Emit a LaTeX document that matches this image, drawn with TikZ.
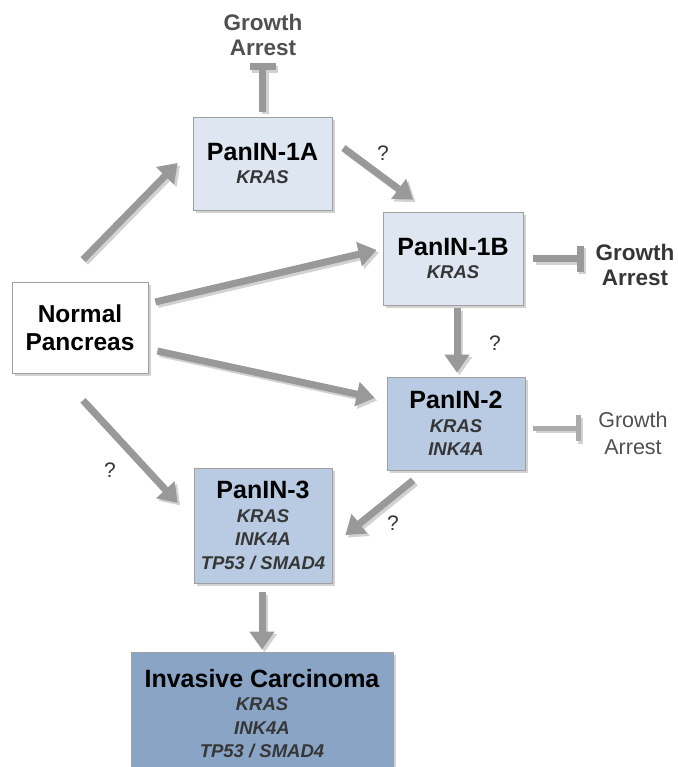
\documentclass[tikz,border=0pt]{standalone}
\usepackage{fontspec}
\setmainfont{Liberation Sans}
\usetikzlibrary{arrows.meta, shadows}

\definecolor{earlyfill}{HTML}{DDE6F1}
\definecolor{midfill}{HTML}{B8CBE2}
\definecolor{latefill}{HTML}{8AA4C6}
\definecolor{edgegray}{HTML}{A0A0A0}
\definecolor{arrowgray}{HTML}{999999}
\definecolor{faintgray}{HTML}{ABABAB}
\definecolor{shadowgray}{HTML}{D2D2D2}
\definecolor{genegray}{HTML}{363636}
\definecolor{labelgray}{HTML}{505050}

\newcommand{\stagetitle}[1]{{\fontsize{25}{25}\selectfont\upshape\color{black}#1}}

\begin{document}
\begin{tikzpicture}[x=1pt, y=-1pt,
    stage/.style={draw=edgegray, line width=0.8pt, minimum width=139pt, minimum height=93pt,
      inner sep=2pt, align=center, text=genegray,
      font=\fontsize{18.5}{23.5}\selectfont\bfseries\itshape,
      drop shadow={shadow xshift=3pt, shadow yshift=-3pt, fill=shadowgray, opacity=1}},
    progress/.style={draw=arrowgray, line width=7pt, -{Triangle[width=24pt,length=18pt]}},
    arrest/.style={draw=arrowgray, line width=7pt, -{Bar[width=26pt]}},
    shade/.style={draw=shadowgray, transform canvas={xshift=2.5pt,yshift=-2.5pt}},
    plain/.style={},
    query/.style={font=\fontsize{21}{21}\selectfont, text=genegray}]
  \useasboundingbox (0,0) rectangle (677,767);

  % stages of the lesion
  \node[stage, fill=white, minimum width=136pt, minimum height=91pt, text=black,
    font=\fontsize{24.5}{28}\selectfont\bfseries] (np) at (80,327.5) {Normal\\Pancreas};
  \node[stage, fill=earlyfill] (p1a) at (262.5,163.5) {\stagetitle{PanIN-1A}\\KRAS};
  \node[stage, fill=earlyfill, minimum width=140pt] (p1b) at (453,258.5) {\stagetitle{PanIN-1B}\\KRAS};
  \node[stage, fill=midfill, minimum width=138pt] (p2) at (456,423.5) {\stagetitle{PanIN-2}\\KRAS\\INK4A};
  \node[stage, fill=midfill, minimum width=138pt, minimum height=115pt] (p3) at (263,525.5)
    {\stagetitle{PanIN-3}\\KRAS\\INK4A\\TP53 / SMAD4};
  \node[stage, fill=latefill, minimum width=262pt, minimum height=123pt] (inv) at (262,713.5)
    {\stagetitle{Invasive Carcinoma}\\KRAS\\INK4A\\TP53 / SMAD4};

  % growth arrest labels
  \node[align=center, text=labelgray, font=\fontsize{22.5}{25}\selectfont\bfseries] (ga1) at (263,35) {Growth\\Arrest};
  \node[align=center, text=genegray, font=\fontsize{22.5}{25}\selectfont\bfseries] (ga2) at (635,264.5) {Growth\\Arrest};
  \node[align=center, text=labelgray, font=\fontsize{21.5}{27}\selectfont] (ga3) at (633,433.5) {Growth\\Arrest};
  \coordinate (stop1) at (262.5,63.5);
  \coordinate (stop2) at (583.5,258.5);
  \coordinate (stop3) at (580.5,428);

  % connectors: first the shadows, then the arrows on top
  \foreach \layer in {shade,plain} {
    \draw[progress, \layer, shorten <=30.8pt, shorten >=21.4pt] ([xshift=-18.5pt]np.north) -- ([yshift=15.8pt]p1a.west);
    \draw[progress, \layer, shorten <=7.2pt, shorten >=6.2pt] ([yshift=23.9pt]np.east) -- ([yshift=9.9pt]p1b.west);
    \draw[progress, \layer, shorten <=9.2pt, shorten >=12.3pt] ([yshift=-21.6pt]np.east) -- ([yshift=22.9pt]p2.west);
    \draw[progress, \layer, shorten <=36.7pt, shorten >=23.6pt] ([xshift=-21.9pt]np.south) -- ([yshift=5.2pt]p3.west);
    \draw[progress, \layer, shorten <=13.7pt, shorten >=20.1pt] ([yshift=23.7pt]p1a.east) -- ([xshift=-23.8pt]p1b.north);
    \draw[progress, \layer, shorten <=3pt, shorten >=4pt] ([xshift=4pt]p1b.south) -- ([xshift=1pt]p2.north);
    \draw[progress, \layer, shorten <=15.9pt, shorten >=16.7pt] ([xshift=-30.6pt]p2.south) -- ([yshift=-20pt]p3.east);
    \draw[progress, \layer, shorten <=9pt, shorten >=2pt] ([xshift=-1pt]p3.south) -- (inv.north);
    % inhibition
    \draw[arrest, \layer, shorten <=5pt] (p1a.north) -- (stop1);
    \draw[arrest, \layer, shorten <=10pt] (p1b.east) -- (stop2);
  }
  \draw[arrest, shade, line width=5pt, shorten <=8pt] ([yshift=-4.5pt]p2.east) -- (stop3);
  \draw[arrest, draw=faintgray, line width=5pt, shorten <=8pt] ([yshift=-4.5pt]p2.east) -- (stop3);

  \node[query] (q1) at (383,153) {?};
  \node[query] (q2) at (495,343) {?};
  \node[query] (q3) at (110,470) {?};
  \node[query] (q4) at (393,523) {?};
\end{tikzpicture}
\end{document}
